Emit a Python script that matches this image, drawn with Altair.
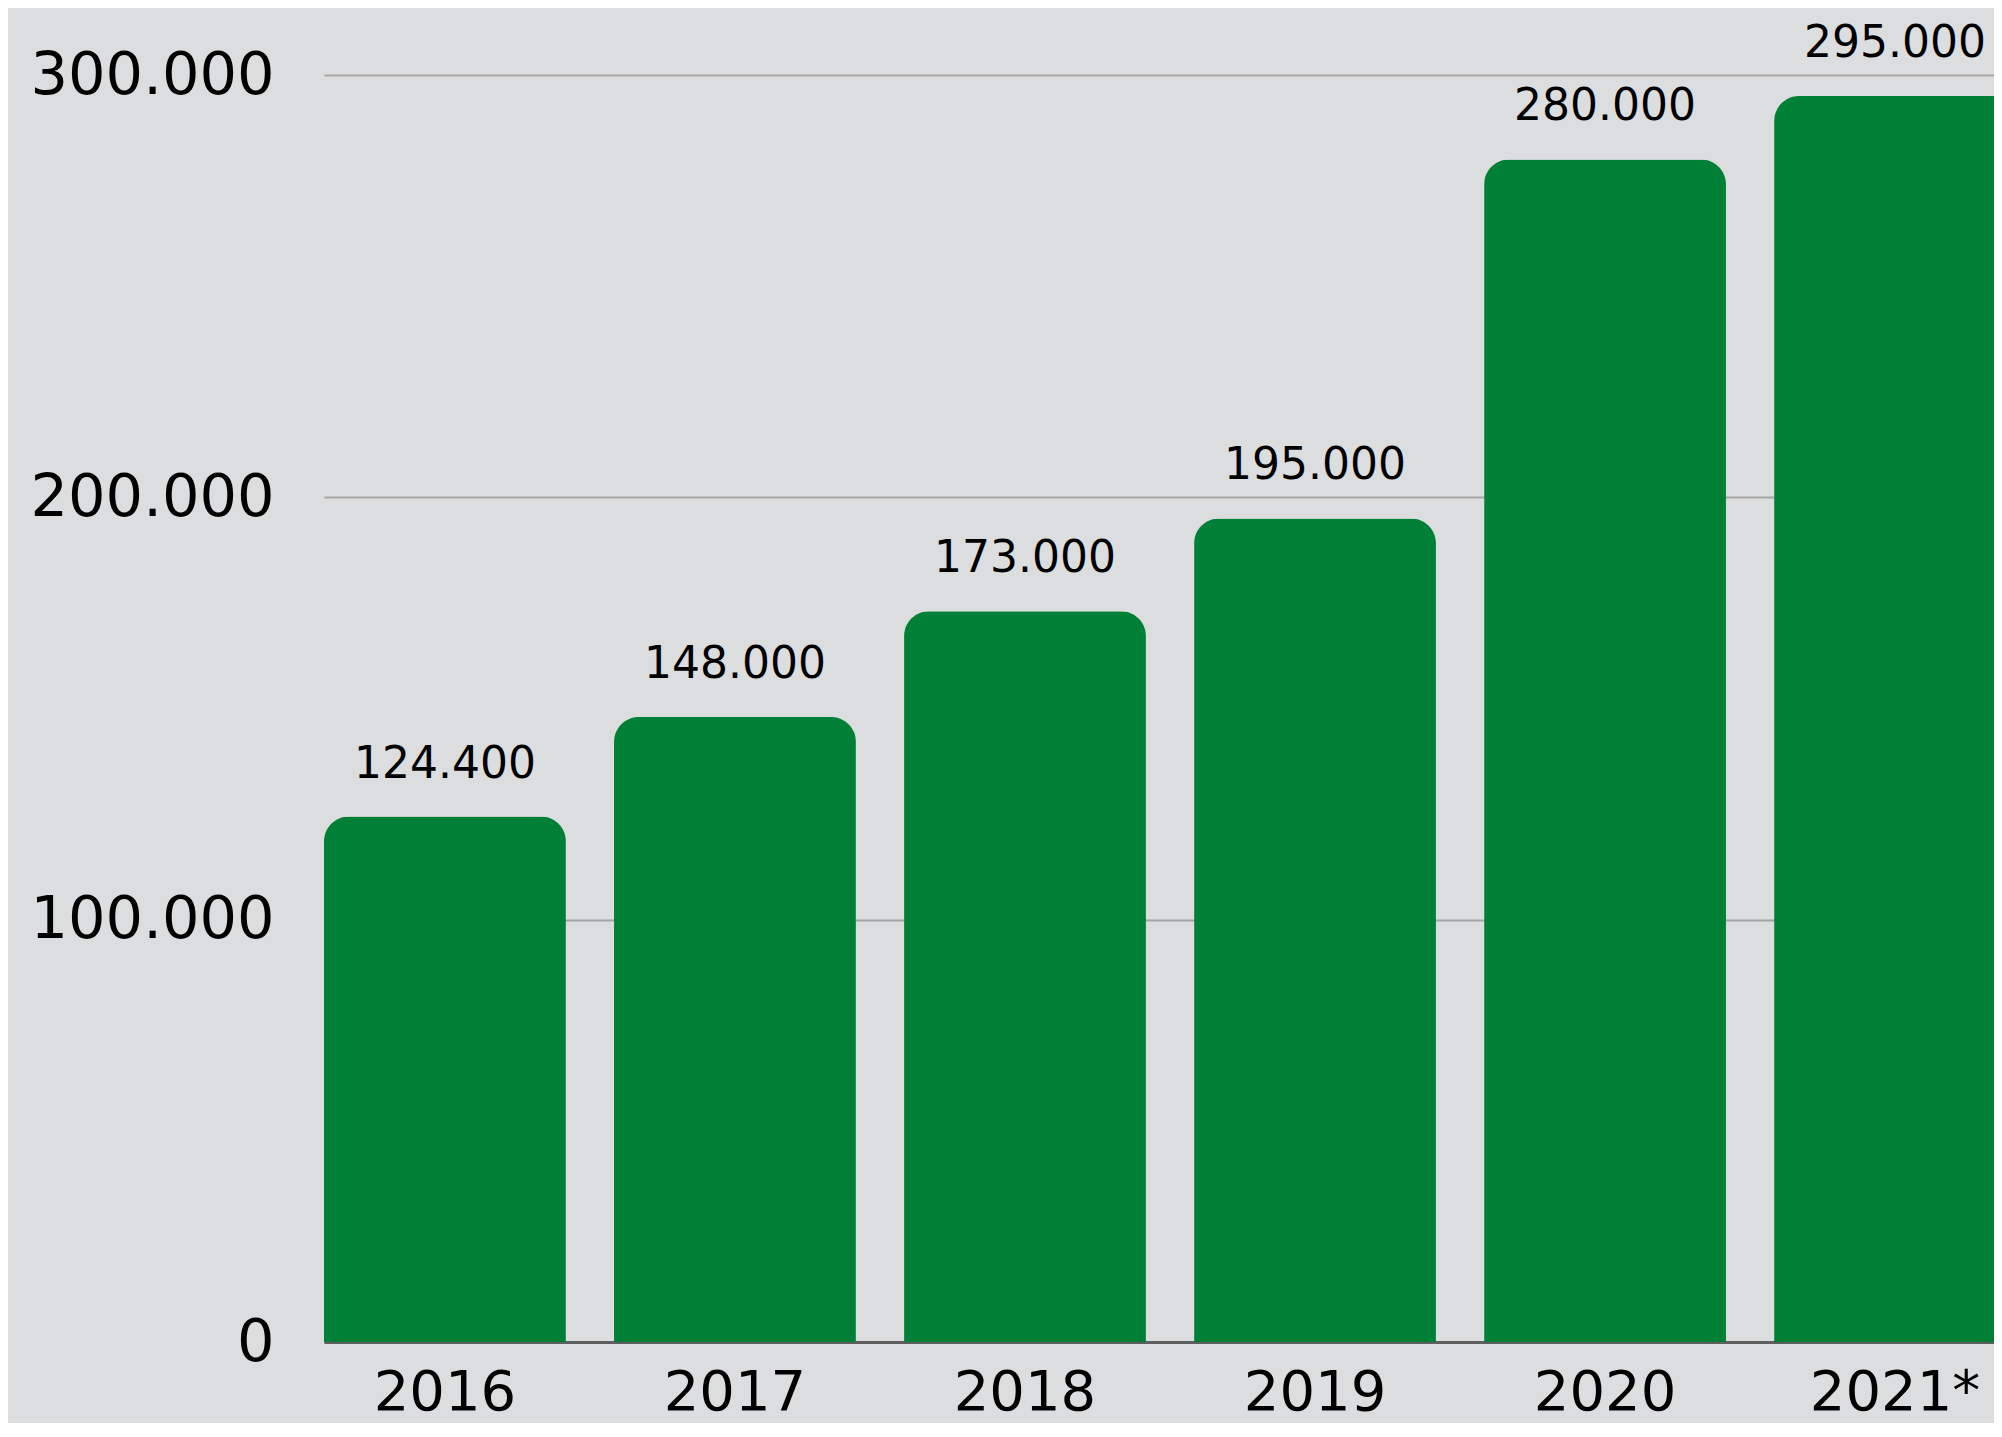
import altair as alt
import pandas as pd

years = ["2016", "2017", "2018", "2019", "2020", "2021*"]
values = [124400, 148000, 173000, 195000, 280000, 295000]
value_labels = ["124.400", "148.000", "173.000", "195.000", "280.000", "295.000"]
y_ticks = [0, 100000, 200000, 300000]

df = pd.DataFrame({"year": years, "value": values, "label": value_labels})

FONT = "DejaVu Sans"

x = alt.X(
    "year:N",
    sort=years,
    title=None,
    scale=alt.Scale(range=[0, 1692], paddingInner=0.166, paddingOuter=0),
    axis=alt.Axis(
        labelAngle=0,
        ticks=False,
        grid=False,
        domainColor="#5f5f5f",
        domainWidth=3,
        labelFont=FONT,
        labelFontSize=56,
        labelColor="#000000",
        labelPadding=67,
        labelBaseline="alphabetic",
        labelLimit=400,
    ),
)
y = alt.Y(
    "value:Q",
    title=None,
    scale=alt.Scale(domain=[0, 300000], nice=False),
    axis=alt.Axis(
        values=y_ticks,
        labelExpr="replace(format(datum.value, ','), ',', '.')",
        ticks=False,
        domain=False,
        gridColor="#a6a6a6",
        gridWidth=2,
        labelFont=FONT,
        labelFontSize=59,
        labelColor="#000000",
        labelPadding=50,
        labelFlush=False,
        labelLimit=400,
    ),
)

bars = alt.Chart(df).mark_bar(
    color="#008037", cornerRadiusTopLeft=25, cornerRadiusTopRight=25
).encode(x=x, y=y)

text = alt.Chart(df).mark_text(
    dy=-39, baseline="alphabetic", fontSize=44, font=FONT, color="#000000"
).encode(x=alt.X("year:N", sort=years), y=alt.Y("value:Q"), text="label:N")

chart = (
    alt.layer(bars, text)
    .properties(
        width=1670,
        height=1267,
        background="#dcdddf",
        autosize=alt.AutoSizeParams(type="none"),
        padding={"left": 316, "top": 67, "right": 0, "bottom": 81},
    )
    .configure_view(stroke=None)
)

chart.save("out.html", embed_options={"renderer": "svg", "actions": False})
